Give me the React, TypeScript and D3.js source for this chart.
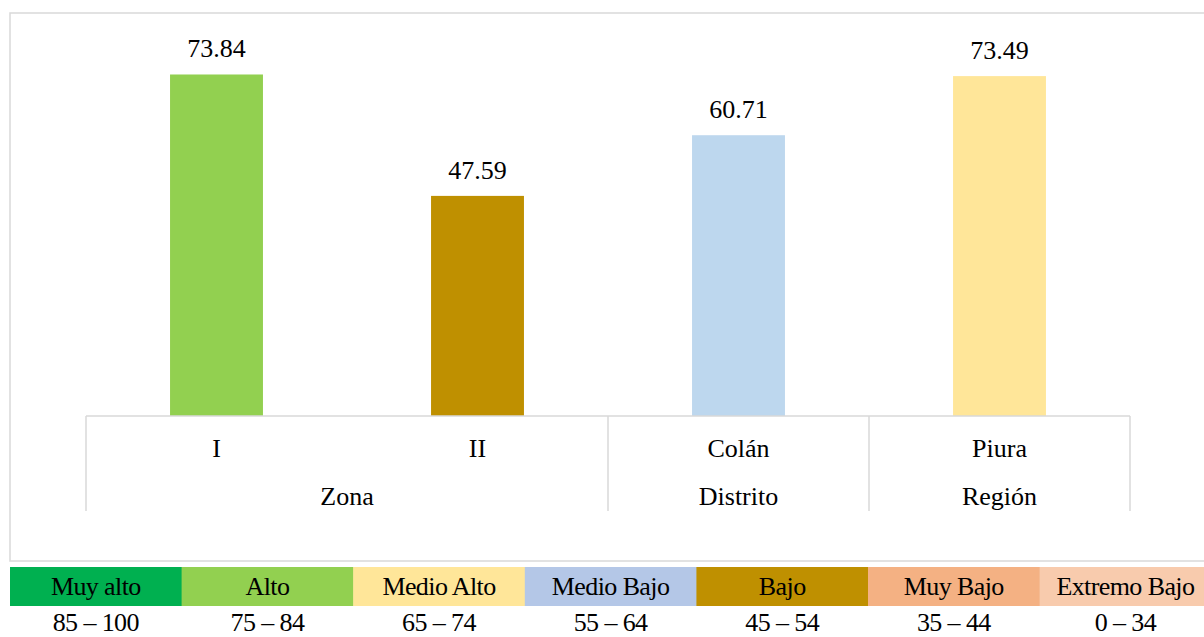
import { useEffect, useRef } from 'react'
import * as d3 from 'd3'

const categories = ['I', 'II', 'Colán', 'Piura']
const values = [73.84, 47.59, 60.71, 73.49]
const barColors = ['#92D050', '#BF9000', '#BDD7EE', '#FFE699']

const groupLabels = ['Zona', 'Distrito', 'Región']
const groupSpans = [2, 1, 1]

const levelNames = ['Muy alto', 'Alto', 'Medio Alto', 'Medio Bajo', 'Bajo', 'Muy Bajo', 'Extremo Bajo']
const levelRanges = ['85 – 100', '75 – 84', '65 – 74', '55 – 64', '45 – 54', '35 – 44', '0 – 34']
const levelColors = ['#00B050', '#92D050', '#FFE699', '#B4C7E7', '#BF9000', '#F4B183', '#F8CBAD']

const WIDTH = 1204
const HEIGHT = 637
const FONT = "'Liberation Serif', 'Times New Roman', serif"
const GRID = '#d9d9d9'

const css = `
svg.chart text, svg.chart .lbl { font-family: 'Liberation Serif', 'Times New Roman', serif !important; font-size: 26px; }
svg.chart .leg { letter-spacing: -0.6px; }
`

const App = () => {
  const svgRef = useRef<SVGSVGElement | null>(null)

  useEffect(() => {
    if (!svgRef.current) return
    d3.select(svgRef.current)
      .selectAll<SVGTextElement, unknown>('text')
      .each(function () {
        this.style.setProperty('font-family', FONT, 'important')
      })
  }, [])

  const x = d3
    .scaleBand<string>()
    .domain(categories)
    .range([86, 1130])
    .paddingInner(0.644)
    .paddingOuter(0.322)
  const step = x.step()
  const axisLeft = 86
  const baseY = 416
  const y = d3.scaleLinear().domain([0, 80]).range([baseY, 46])

  // group boundaries in category units
  const bounds = [0, ...d3.cumsum(groupSpans)]

  const legendX = d3
    .scaleBand<string>()
    .domain(levelNames)
    .range([10, 10 + 7 * 171.6])

  return (
    <svg
      ref={svgRef}
      className="chart"
      width={WIDTH}
      height={HEIGHT}
      fontFamily="Liberation Serif"
      style={{ position: 'absolute', left: 0, top: 0, background: '#fff' }}
    >
      <style>{css}</style>
      <rect x={10} y={13} width={1230} height={548} fill="#fff" stroke={GRID} strokeWidth={1.5} />

      {categories.map((c, i) => (
        <g key={c}>
          <rect
            x={x(c)}
            y={y(values[i])}
            width={x.bandwidth()}
            height={baseY - y(values[i])}
            fill={barColors[i]}
          />
          <text
            className="lbl"
            x={(x(c) ?? 0) + x.bandwidth() / 2}
            y={y(values[i]) - 17}
            textAnchor="middle"
            fill="#000"
          >
            {values[i].toFixed(2)}
          </text>
          <text
            className="lbl"
            x={(x(c) ?? 0) + x.bandwidth() / 2}
            y={457}
            textAnchor="middle"
            fill="#000"
          >
            {c}
          </text>
        </g>
      ))}

      <line x1={axisLeft} x2={axisLeft + step * categories.length} y1={baseY} y2={baseY} stroke={GRID} strokeWidth={1.5} />
      {bounds.map((b) => (
        <line
          key={b}
          x1={axisLeft + b * step}
          x2={axisLeft + b * step}
          y1={baseY}
          y2={511}
          stroke={GRID}
          strokeWidth={1.5}
        />
      ))}
      {groupLabels.map((g, i) => (
        <text
          key={g}
          className="lbl"
          x={axisLeft + ((bounds[i] + bounds[i + 1]) / 2) * step}
          y={505}
          textAnchor="middle"
          fill="#000"
        >
          {g}
        </text>
      ))}

      {levelNames.map((n, i) => {
        const lx = legendX(n) ?? 0
        const bw = legendX.bandwidth()
        return (
          <g key={n}>
            <rect x={lx} y={567} width={bw + 0.5} height={39} fill={levelColors[i]} />
            <text className="lbl leg" x={lx + bw / 2} y={595} textAnchor="middle" fill="#000">
              {n}
            </text>
            <text className="lbl leg" x={lx + bw / 2} y={631} textAnchor="middle" fill="#000">
              {levelRanges[i]}
            </text>
          </g>
        )
      })}
    </svg>
  )
}

export default App
